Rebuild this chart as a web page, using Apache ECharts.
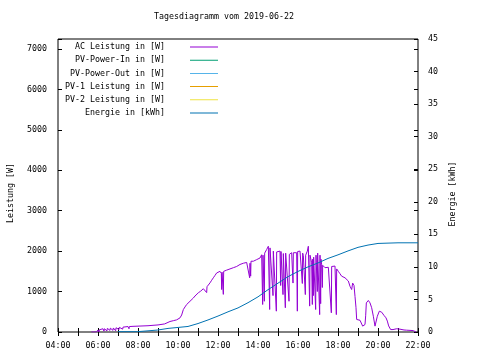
<!DOCTYPE html>
<html>
<head>
<meta charset="utf-8">
<script src="https://cdn.jsdelivr.net/npm/echarts@6/dist/echarts.min.js"></script>
<style>html,body{margin:0;padding:0;background:#fff}#c{width:480px;height:360px}</style>
</head>
<body>
<div id="c"></div>
<script>
var titleText = 'Tagesdiagramm vom 2019-06-22';
var seriesNames = ['AC Leistung in [W]', 'PV-Power-In in [W]', 'PV-Power-Out in [W]', 'PV-1 Leistung in [W]', 'PV-2 Leistung in [W]', 'Energie in [kWh]'];
var seriesColors = ['#9400d3', '#009e73', '#56b4e9', '#e69f00', '#f0e442', '#0072b2'];
var leftAxisName = 'Leistung [W]';
var rightAxisName = 'Energie [kWh]';

var acTimes = ['05:40','05:42','05:44','05:47','05:48','05:52','05:55','05:56','06:00','06:03','06:04','06:10','06:15','06:18','06:19','06:24','06:27','06:28','06:33','06:36','06:37','06:42','06:45','06:46','06:50','06:53','06:54','07:00','07:03','07:04','07:10','07:14','07:15','07:20','07:30','07:33','07:34','07:45','08:00','08:15','08:30','08:45','09:00','09:12','09:20','09:26','09:36','09:46','09:56','10:06','10:11','10:16','10:21','10:26','10:31','10:36','10:41','10:46','10:51','11:01','11:08','11:16','11:21','11:26','11:27','11:31','11:36','11:41','11:46','11:51','11:56','12:01','12:06','12:10','12:11','12:12','12:16','12:17','12:21','12:26','12:31','12:36','12:41','12:46','12:51','12:56','13:01','13:06','13:11','13:16','13:21','13:26','13:31','13:35','13:36','13:38','13:39','13:46','13:51','13:56','14:01','14:06','14:11','14:14','14:15','14:19','14:20','14:26','14:31','14:35','14:36','14:41','14:45','14:46','14:51','14:55','14:56','15:01','15:06','15:08','15:09','15:11','15:15','15:16','15:21','15:22','15:23','15:26','15:33','15:34','15:41','15:45','15:46','15:51','15:56','15:58','15:59','16:06','16:11','16:13','16:14','16:16','16:21','16:22','16:23','16:28','16:31','16:35','16:36','16:41','16:43','16:44','16:46','16:47','16:51','16:53','16:54','16:58','16:59','17:01','17:05','17:06','17:08','17:09','17:11','17:13','17:14','17:16','17:21','17:26','17:31','17:36','17:40','17:41','17:46','17:51','17:55','17:56','18:01','18:06','18:11','18:16','18:21','18:26','18:31','18:36','18:41','18:44','18:48','18:51','18:54','18:56','19:01','19:06','19:11','19:14','19:16','19:21','19:23','19:25','19:31','19:36','19:41','19:46','19:51','19:56','19:58','20:04','20:11','20:18','20:24','20:28','20:32','20:34','20:38','20:45','20:56','21:01','21:06','21:11','21:18','21:26','21:36','21:46','21:52','21:54'];
var acWatts = [0,0,40,0,40,45,0,45,50,0,55,80,80,20,80,85,30,90,95,40,95,100,40,100,100,30,105,110,60,115,120,70,120,130,135,80,135,140,145,150,155,165,175,190,200,225,260,280,300,350,420,555,620,680,720,760,800,840,890,970,1010,1070,1100,975,1120,1160,1215,1280,1340,1400,1460,1480,1500,1450,1050,1480,930,1500,1500,1530,1520,1560,1540,1590,1590,1620,1640,1670,1650,1700,1690,1720,1700,1340,1700,1380,1750,1750,1790,1790,1820,1830,1910,680,1900,760,1950,2040,2120,556,2080,2080,900,2000,2040,515,1980,1960,2000,1150,1990,1960,925,1940,1960,600,1950,1910,760,1920,1960,1210,1960,1980,1960,515,1990,2000,1960,1200,1950,1890,1880,925,1900,2000,2120,640,1900,1710,680,1800,900,1850,1880,556,1900,1000,1950,1960,430,1900,700,1800,1670,1100,1650,1630,1590,1610,1600,1590,475,1620,1640,1630,430,1560,1500,1440,1380,1360,1340,1300,1260,1130,1050,1210,1150,880,600,310,310,290,270,145,150,185,400,720,780,720,600,390,145,130,390,515,490,410,350,270,150,105,60,60,80,105,70,60,50,45,40,35,20,0];

var energyTimes = ['07:00','07:59','08:00','08:59','09:00','09:30','10:00','10:30','11:00','11:30','12:00','12:30','13:00','13:30','14:00','14:30','15:00','15:30','16:00','16:30','17:00','17:30','18:00','18:30','19:00','19:30','20:00','20:30','21:00','22:00'];
var energyKWh = [0.05,0.05,0.3,0.3,0.45,0.55,0.7,0.85,1.3,1.85,2.45,3.1,3.7,4.5,5.4,6.5,7.5,8.5,9.3,10.0,10.6,11.3,11.85,12.45,13.0,13.35,13.6,13.65,13.7,13.7];

var xTickHours = [4, 6, 8, 10, 12, 14, 16, 18, 20, 22];

function toHours(s) { var p = s.split(':'); return +p[0] + (+p[1]) / 60; }
function pad(n) { return (n < 10 ? '0' : '') + n; }
var acData = acTimes.map(function (t, i) { return [toHours(t), acWatts[i]]; });
var energyData = energyTimes.map(function (t, i) { return [toHours(t), energyKWh[i]]; });

var FONT = 'DejaVu Sans Mono';
var FS = 8.3;
var lineIcon = 'path://M0,0L0.01,0L0,0.01Z M0,4.5L28,4.5L28,5.5L0,5.5Z M28,10L27.99,10L28,9.99Z';
var chart = echarts.init(document.getElementById('c'), null, { renderer: 'canvas' });

var series = seriesNames.map(function (n, i) {
  return {
    name: n, type: 'line', showSymbol: false, symbol: 'none', animation: false,
    yAxisIndex: i === 5 ? 1 : 0,
    data: i === 0 ? acData : (i === 5 ? energyData : []),
    lineStyle: { width: 1, color: seriesColors[i] },
    itemStyle: { color: seriesColors[i] }
  };
});

chart.setOption({
  animation: false,
  textStyle: { fontFamily: FONT, fontSize: FS, color: '#000' },
  grid: { left: 58, right: 62, top: 39, bottom: 28, show: true, borderColor: '#000', borderWidth: 1, backgroundColor: 'transparent' },
  title: { text: titleText, left: 224, top: 13, textAlign: 'center', textStyle: { fontFamily: FONT, fontSize: FS, fontWeight: 'normal', color: '#000' }, padding: 0 },
  legend: {
    orient: 'vertical', align: 'right', right: 262, top: 42, padding: 0,
    itemWidth: 28, itemHeight: 10, itemGap: 3.2,
    icon: lineIcon,
    data: seriesNames,
    textStyle: { fontFamily: FONT, fontSize: FS, color: '#000', padding: [0, 20, 0, 0] },
    selectedMode: false
  },
  graphic: [
    { type: 'text', x: 11, y: 193, rotation: Math.PI / 2, style: { text: leftAxisName, font: FS + 'px "' + FONT + '"', fill: '#000', align: 'center', verticalAlign: 'middle' } },
    { type: 'text', x: 453, y: 194, rotation: Math.PI / 2, style: { text: rightAxisName, font: FS + 'px "' + FONT + '"', fill: '#000', align: 'center', verticalAlign: 'middle' } }
  ],
  xAxis: [
    {
      type: 'value', min: 4, max: 22, interval: 1, position: 'bottom',
      axisLine: { show: false }, splitLine: { show: false },
      axisTick: { inside: true, length: 4, lineStyle: { color: '#000' } },
      axisLabel: { margin: 10, color: '#000', fontFamily: FONT, fontSize: FS,
        formatter: function (v) { return xTickHours.indexOf(v) >= 0 ? pad(v) + ':00' : ''; } }
    },
    {
      type: 'value', min: 4, max: 22, interval: 1, position: 'top',
      axisLine: { show: false }, splitLine: { show: false },
      axisTick: { inside: true, length: 4, lineStyle: { color: '#000' } },
      axisLabel: { show: false }
    }
  ],
  yAxis: [
    {
      type: 'value', min: 0, max: 7245, interval: 1000, position: 'left',
      axisLine: { show: false }, splitLine: { show: false },
      axisTick: { inside: true, length: 4, lineStyle: { color: '#000' } },
      axisLabel: { margin: 11, color: '#000', fontFamily: FONT, fontSize: FS,
        formatter: function (v) { return v % 1000 === 0 ? String(v) : ''; } }
    },
    {
      type: 'value', min: 0, max: 45, interval: 5, position: 'right',
      axisLine: { show: false }, splitLine: { show: false },
      axisTick: { inside: true, length: 4, lineStyle: { color: '#000' } },
      axisLabel: { margin: 10, color: '#000', fontFamily: FONT, fontSize: FS, align: 'left' }
    },
    {
      type: 'value', min: 0, max: 7245, interval: 1000, position: 'right',
      axisLine: { show: false }, splitLine: { show: false },
      axisTick: { inside: true, length: 4, lineStyle: { color: '#000' } },
      axisLabel: { show: false }
    }
  ],
  series: series
});
</script>
</body>
</html>
